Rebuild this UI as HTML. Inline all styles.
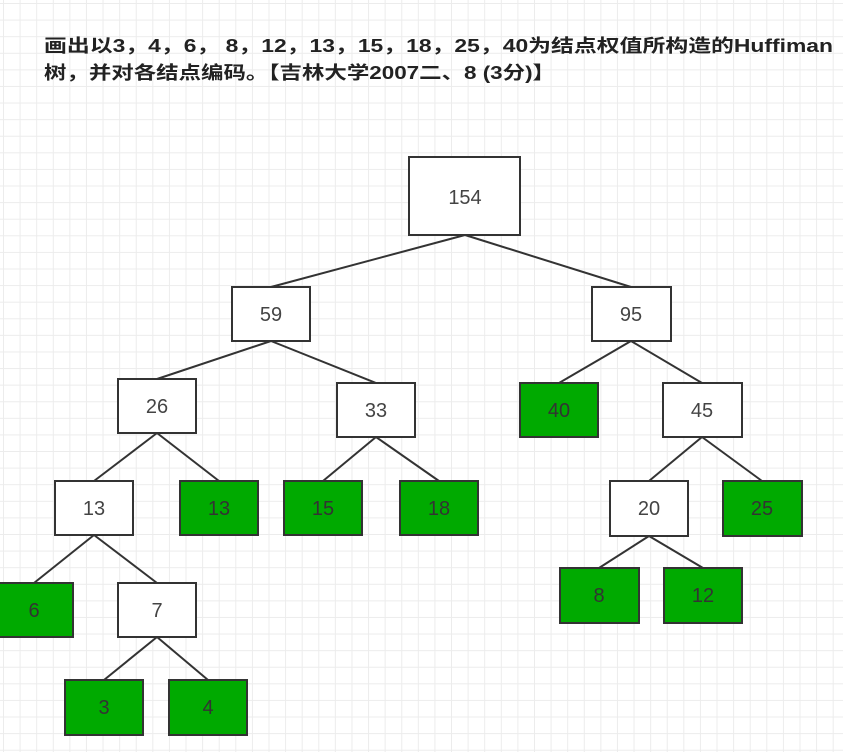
<!DOCTYPE html>
<html><head><meta charset="utf-8"><style>
html,body{margin:0;padding:0;}
body{width:843px;height:752px;overflow:hidden;background:#fff;
background-image:linear-gradient(#ececec 1px,transparent 1px),linear-gradient(90deg,#ececec 1px,transparent 1px);
background-size:16.6px 16.6px;background-position:3px 3px;}
svg{position:absolute;left:0;top:0;}
text{font-family:"Liberation Sans","Noto Sans CJK SC",sans-serif;}
</style></head><body>
<svg width="843" height="752" viewBox="0 0 843 752">
<g font-weight="bold" font-size="18" fill="#222">
<text x="44" y="52" textLength="789" lengthAdjust="spacingAndGlyphs">画出以3，4，6， 8，12，13，15，18，25，40为结点权值所构造的Huffiman</text>
<text x="44" y="79" textLength="511" lengthAdjust="spacingAndGlyphs">树，并对各结点编码。【吉林大学2007二、8 (3分)】</text>
</g>
<g stroke="#333" stroke-width="2">
<line x1="465" y1="235" x2="271" y2="287"/><line x1="465" y1="235" x2="631" y2="287"/>
<line x1="271" y1="341" x2="157" y2="379"/><line x1="271" y1="341" x2="376" y2="383"/>
<line x1="631" y1="341" x2="559" y2="383"/><line x1="631" y1="341" x2="702" y2="383"/>
<line x1="157" y1="433" x2="94" y2="481"/><line x1="157" y1="433" x2="219" y2="481"/>
<line x1="376" y1="437" x2="323" y2="481"/><line x1="376" y1="437" x2="439" y2="481"/>
<line x1="702" y1="437" x2="649" y2="481"/><line x1="702" y1="437" x2="762" y2="481"/>
<line x1="94" y1="535" x2="34" y2="583"/><line x1="94" y1="535" x2="157" y2="583"/>
<line x1="157" y1="637" x2="104" y2="680"/><line x1="157" y1="637" x2="208" y2="680"/>
<line x1="649" y1="536" x2="599" y2="568"/><line x1="649" y1="536" x2="703" y2="568"/>
</g>
<g stroke="#333" stroke-width="2" font-size="20" text-anchor="middle">
<rect x="409" y="157" width="111" height="78" fill="#fff"/><text x="465" y="204" fill="#444" stroke="none">154</text>
<rect x="232" y="287" width="78" height="54" fill="#fff"/><text x="271" y="321" fill="#444" stroke="none">59</text>
<rect x="592" y="287" width="79" height="54" fill="#fff"/><text x="631" y="321" fill="#444" stroke="none">95</text>
<rect x="118" y="379" width="78" height="54" fill="#fff"/><text x="157" y="413" fill="#444" stroke="none">26</text>
<rect x="337" y="383" width="78" height="54" fill="#fff"/><text x="376" y="417" fill="#444" stroke="none">33</text>
<rect x="520" y="383" width="78" height="54" fill="#00aa00"/><text x="559" y="417" fill="#333" stroke="none">40</text>
<rect x="663" y="383" width="79" height="54" fill="#fff"/><text x="702" y="417" fill="#444" stroke="none">45</text>
<rect x="55" y="481" width="78" height="54" fill="#fff"/><text x="94" y="515" fill="#444" stroke="none">13</text>
<rect x="180" y="481" width="78" height="54" fill="#00aa00"/><text x="219" y="515" fill="#333" stroke="none">13</text>
<rect x="284" y="481" width="78" height="54" fill="#00aa00"/><text x="323" y="515" fill="#333" stroke="none">15</text>
<rect x="400" y="481" width="78" height="54" fill="#00aa00"/><text x="439" y="515" fill="#333" stroke="none">18</text>
<rect x="610" y="481" width="78" height="55" fill="#fff"/><text x="649" y="515" fill="#444" stroke="none">20</text>
<rect x="723" y="481" width="79" height="55" fill="#00aa00"/><text x="762" y="515" fill="#333" stroke="none">25</text>
<rect x="-5" y="583" width="78" height="54" fill="#00aa00"/><text x="34" y="617" fill="#333" stroke="none">6</text>
<rect x="118" y="583" width="78" height="54" fill="#fff"/><text x="157" y="617" fill="#444" stroke="none">7</text>
<rect x="560" y="568" width="79" height="55" fill="#00aa00"/><text x="599" y="602" fill="#333" stroke="none">8</text>
<rect x="664" y="568" width="78" height="55" fill="#00aa00"/><text x="703" y="602" fill="#333" stroke="none">12</text>
<rect x="65" y="680" width="78" height="55" fill="#00aa00"/><text x="104" y="714" fill="#333" stroke="none">3</text>
<rect x="169" y="680" width="78" height="55" fill="#00aa00"/><text x="208" y="714" fill="#333" stroke="none">4</text>
</g>
</svg>
</body></html>
